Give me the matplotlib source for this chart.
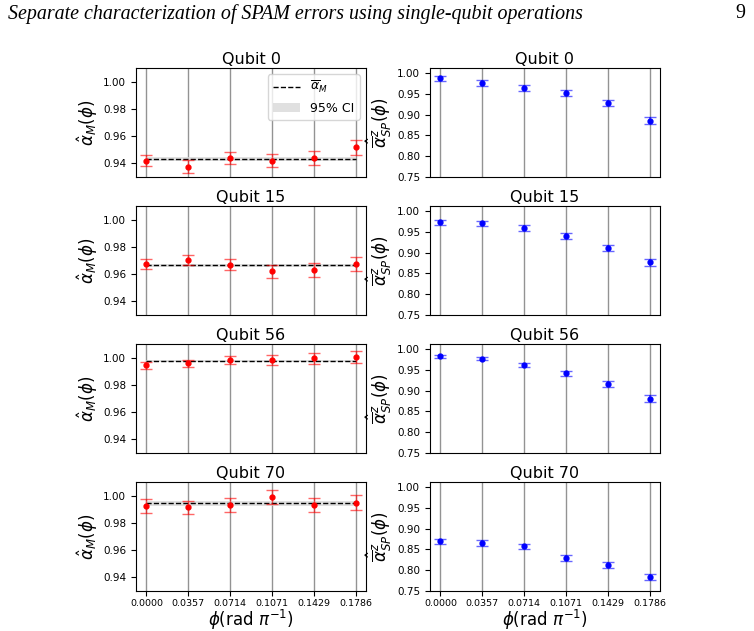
import matplotlib.pyplot as plt
import numpy as np

phi = [0.0, 0.0357, 0.0714, 0.1071, 0.1429, 0.1786]
phi_labels = ['0.0000', '0.0357', '0.0714', '0.1071', '0.1429', '0.1786']
qubits = ['Qubit 0', 'Qubit 15', 'Qubit 56', 'Qubit 70']

# measurement estimates alpha_M(phi)
alpha_m_q0 = [0.9420, 0.9375, 0.9442, 0.9420, 0.9438, 0.9517]
alpha_m_q15 = [0.9676, 0.9706, 0.9668, 0.9621, 0.9631, 0.9676]
alpha_m_q56 = [0.9943, 0.9958, 0.9985, 0.9985, 0.9996, 1.0005]
alpha_m_q70 = [0.9923, 0.9913, 0.9931, 0.9990, 0.9931, 0.9948]
err_m_q0 = [0.0041, 0.0047, 0.0045, 0.0047, 0.0050, 0.0055]
err_m_q15 = [0.0037, 0.0038, 0.0040, 0.0046, 0.0050, 0.0052]
err_m_q56 = [0.0025, 0.0027, 0.0030, 0.0037, 0.0040, 0.0046]
err_m_q70 = [0.0050, 0.0050, 0.0050, 0.0050, 0.0052, 0.0055]

# mean alpha_M and its 95% CI
mean_m = [0.9435, 0.9664, 0.9978, 0.9943]
ci_lo = [0.9418, 0.9655, 0.9970, 0.9927]
ci_hi = [0.9450, 0.9675, 0.9986, 0.9958]

# state preparation estimates
alpha_sp_q0 = [0.9870, 0.9758, 0.9637, 0.9516, 0.9280, 0.8854]
alpha_sp_q15 = [0.9735, 0.9703, 0.9590, 0.9406, 0.9117, 0.8769]
alpha_sp_q56 = [0.9823, 0.9765, 0.9606, 0.9419, 0.9160, 0.8807]
alpha_sp_q70 = [0.8690, 0.8659, 0.8570, 0.8300, 0.8132, 0.7845]
err_sp_q0 = [0.007, 0.007, 0.007, 0.007, 0.007, 0.008]
err_sp_q15 = [0.006, 0.006, 0.007, 0.007, 0.007, 0.008]
err_sp_q56 = [0.004, 0.004, 0.005, 0.006, 0.007, 0.008]
err_sp_q70 = [0.007, 0.007, 0.007, 0.007, 0.007, 0.007]

am = [alpha_m_q0, alpha_m_q15, alpha_m_q56, alpha_m_q70]
em = [err_m_q0, err_m_q15, err_m_q56, err_m_q70]
asp = [alpha_sp_q0, alpha_sp_q15, alpha_sp_q56, alpha_sp_q70]
esp = [err_sp_q0, err_sp_q15, err_sp_q56, err_sp_q70]

fig = plt.figure(figsize=(7.54, 6.31), dpi=100)
fig.text(0.010, 0.978, 'Separate characterization of SPAM errors using single-qubit operations',
         family='Liberation Serif', style='italic', fontsize=14.4, va='center')
fig.text(0.988, 0.978, '9', family='Liberation Serif', fontsize=14.4, va='center', ha='right')

bottoms = [0.7195, 0.5008, 0.2821, 0.0634]
h = 0.1727
w = 0.305

for i in range(4):
    axl = fig.add_axes([0.1804, bottoms[i], w, h])
    axr = fig.add_axes([0.5703, bottoms[i], w, h])
    for ax in (axl, axr):
        for p in phi:
            ax.axvline(p, color='0.4', lw=1, alpha=0.7, zorder=0)
        ax.set_xticks(phi)
        ax.set_title(qubits[i], fontsize=11.5, pad=3)
        ax.tick_params(labelsize=7.5)
        if i == 3:
            ax.set_xticklabels(phi_labels, fontsize=6.8)
            ax.tick_params(axis='x', pad=2)
            ax.set_xlabel(r'$\phi$(rad $\pi^{-1}$)', fontsize=12, labelpad=0)
        else:
            ax.set_xticklabels([])
            ax.tick_params(axis='x', length=0)

    ln, = axl.plot([phi[0], phi[-1]], [mean_m[i], mean_m[i]], ls='--', color='black', lw=1,
                   zorder=2)
    band = axl.fill_between([phi[0], phi[-1]], ci_lo[i], ci_hi[i], color='0.85', alpha=0.8,
                            lw=0, zorder=1)
    axl.errorbar(phi, am[i], yerr=em[i], fmt='o', ms=3.5, color='red', ecolor=(1, 0, 0, 0.6),
                 capsize=4, elinewidth=1, zorder=3)
    axl.set_ylim(0.93, 1.01)
    axl.set_yticks([0.94, 0.96, 0.98, 1.00])
    axl.set_yticklabels(['0.94', '0.96', '0.98', '1.00'])
    axl.set_ylabel(r'$\hat{\alpha}_M(\phi)$', fontsize=12, labelpad=2)

    axr.errorbar(phi, asp[i], yerr=esp[i], fmt='o', ms=3.5, color='blue', ecolor=(0, 0, 1, 0.6),
                 capsize=4, elinewidth=1.2, zorder=3)
    axr.set_ylim(0.75, 1.012)
    axr.set_yticks([0.75, 0.80, 0.85, 0.90, 0.95, 1.00])
    axr.set_yticklabels(['0.75', '0.80', '0.85', '0.90', '0.95', '1.00'])
    axr.set_ylabel(r'$\hat{\overline{\alpha}}^{z}_{SP}(\phi)$', fontsize=12, labelpad=2)

    if i == 0:
        axl.legend([ln, band], [r'$\overline{\alpha}_M$', '95% CI'], loc='upper right',
                   fontsize=9, handlelength=2.2)

fig.savefig('out.png', dpi=100)
